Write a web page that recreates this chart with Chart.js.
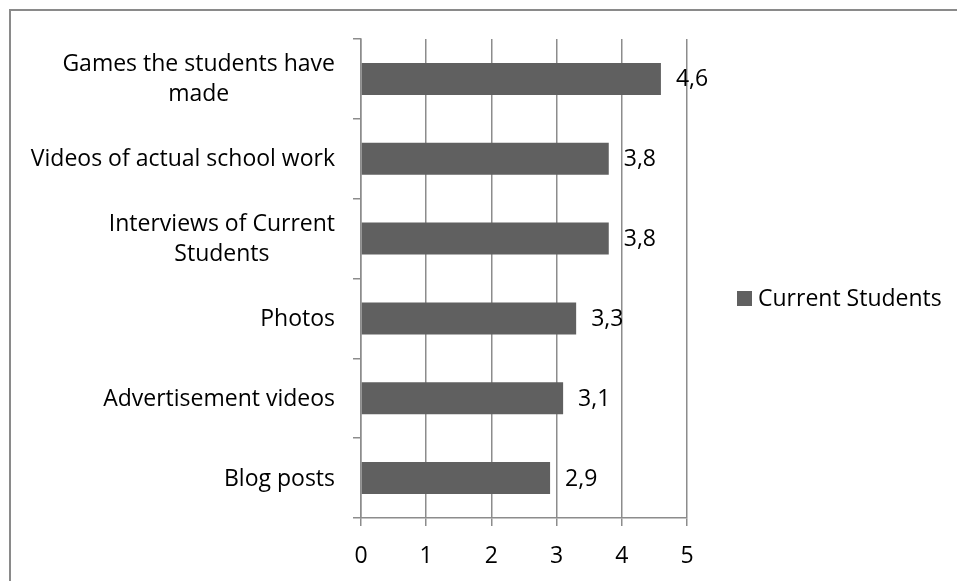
<!DOCTYPE html>
<html>
<head>
<meta charset="utf-8">
<script src="https://cdn.jsdelivr.net/npm/chart.js@4/dist/chart.umd.min.js"></script>
<style>
  html, body { margin: 0; padding: 0; background: #fff; overflow: hidden; }
  #wrap { position: relative; width: 957px; height: 581px; }
  #frame { position: absolute; left: 9px; top: 9px; width: 1000px; height: 1000px;
           border: 2px solid #8a8a8a; pointer-events: none; }
</style>
</head>
<body>
<div id="wrap">
  <canvas id="myChart" width="957" height="581"></canvas>
  <div id="frame"></div>
</div>
<script>
// categorias (de cima para baixo), cada uma em linhas
var categories = [
  ["Games the students have", "made"],
  ["Videos of actual school work"],
  ["Interviews of Current", "Students"],
  ["Photos"],
  ["Advertisement videos"],
  ["Blog posts"]
];
var seriesName = "Current Students";
var values = [4.6, 3.8, 3.8, 3.3, 3.1, 2.9];
var xTicks = [0, 1, 2, 3, 4, 5];

var FONT_FAMILY = "'Open Sans', 'DejaVu Sans', sans-serif";
var FONT_SIZE = 23;
var LINE_H = 30;
var BAR_COLOR = '#606060';
var GRID_COLOR = '#8c8c8c';

// formato com virgula decimal
function fmt(v) {
  return v.toFixed(1).replace('.', ',');
}

// rotulos do eixo, valores das barras e legenda
var textPlugin = {
  id: 'textPlugin',
  afterDraw: function (chart) {
    var ctx = chart.ctx;
    var yScale = chart.scales.y;
    var area = chart.chartArea;
    var meta = chart.getDatasetMeta(0);

    ctx.save();
    ctx.font = FONT_SIZE + 'px ' + FONT_FAMILY;
    ctx.fillStyle = '#000';
    ctx.textBaseline = 'middle';

    categories.forEach(function (lines, i) {
      var cy = yScale.getPixelForValue(i) + 1;
      var w = Math.max.apply(null, lines.map(function (l) { return ctx.measureText(l).width; }));
      var cx = yScale.right - 26 - w / 2;
      ctx.textAlign = 'center';
      lines.forEach(function (l, k) {
        ctx.fillText(l, cx, cy + (k - (lines.length - 1) / 2) * LINE_H);
      });
    });

    ctx.textAlign = 'left';
    meta.data.forEach(function (bar, i) {
      ctx.fillText(fmt(values[i]), bar.x + 15, bar.y + 1);
    });

    // legenda
    var lx = area.right + 50;
    var ly = chart.height / 2 + 8;
    ctx.fillStyle = BAR_COLOR;
    ctx.fillRect(lx, ly - 7.5, 15, 15);
    ctx.fillStyle = '#000';
    ctx.fillText(seriesName, lx + 21, ly + 1);
    ctx.restore();
  }
};

var ctx = document.getElementById('myChart');
var chart = new Chart(ctx, {
  type: 'bar',
  data: {
    labels: categories,
    datasets: [{
      label: seriesName,
      data: values,
      backgroundColor: BAR_COLOR,
      borderWidth: 0,
      categoryPercentage: 1,
      barPercentage: 0.4
    }]
  },
  options: {
    indexAxis: 'y',
    responsive: false,
    animation: false,
    devicePixelRatio: 1,
    layout: { padding: { left: 0, top: 39, right: 270, bottom: 0 } },
    plugins: {
      legend: { display: false },
      tooltip: { enabled: false }
    },
    scales: {
      x: {
        min: 0,
        max: 5,
        afterBuildTicks: function (scale) {
          scale.ticks = xTicks.map(function (v) { return { value: v }; });
        },
        afterFit: function (scale) { scale.height = 63; },
        grid: { color: GRID_COLOR, lineWidth: 1.5, tickLength: 8, drawTicks: true },
        border: { color: GRID_COLOR, width: 1.5 },
        ticks: {
          color: '#000',
          padding: 17,
          font: { family: FONT_FAMILY, size: FONT_SIZE }
        }
      },
      y: {
        afterFit: function (scale) { scale.width = 361; },
        grid: { drawOnChartArea: false, color: GRID_COLOR, lineWidth: 1.5, tickLength: 8, offset: true },
        border: { color: GRID_COLOR, width: 1.5 },
        ticks: { display: false }
      }
    }
  },
  plugins: [textPlugin]
});
</script>
</body>
</html>
